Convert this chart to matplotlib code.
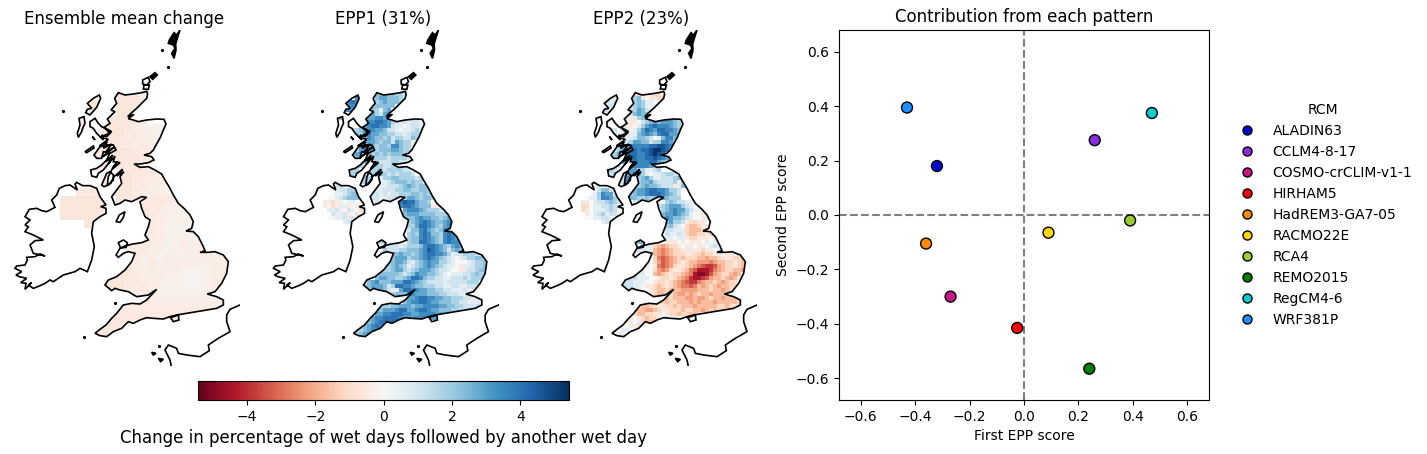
import numpy as np
import matplotlib
matplotlib.use("Agg")
import matplotlib.pyplot as plt
from matplotlib.path import Path
from matplotlib.patches import PathPatch
from matplotlib.lines import Line2D
from matplotlib.colors import Normalize
from matplotlib.cm import ScalarMappable

W, H = 1427, 454
RCMS = ["ALADIN63", "CCLM4-8-17", "COSMO-crCLIM-v1-1", "HIRHAM5", "HadREM3-GA7-05",
        "RACMO22E", "RCA4", "REMO2015", "RegCM4-6", "WRF381P"]
EPP1_SCORE = [-0.32, 0.26, -0.27, -0.025, -0.36, 0.09, 0.39, 0.24, 0.47, -0.43]
EPP2_SCORE = [0.18, 0.275, -0.30, -0.415, -0.105, -0.065, -0.02, -0.565, 0.375, 0.395]
RCM_COLORS = ["#0000cd", "#8a2be2", "#c71585", "#ff0000", "#ff8c00",
              "#ffd700", "#9acd32", "#008000", "#00ced1", "#1e90ff"]
TITLES = ["Ensemble mean change", "EPP1 (31%)", "EPP2 (23%)"]
VMAX = 5.43

# Map fields: one character per cell. digits = positive levels, letters = negative levels; '.' = no data
MEAN_ROWS = [
    ".......66655", "...66..66655", "...55..6665", "..5...66655", "..55.5665432221",
    "...5.5665543221", "....5665545432", "....5566655533", "....5566665554",
    "...555.6565554", ".....5.66555423", ".....5.66553424", "..555.66654433",
    "666666.655556533", "666766...66554334", "66666....56543333", "...6.....46542322",
    ".........455423333", ".........4544334333", "........555432344433", "........55332433344444",
    ".......55435344443344", ".......66543433212344", "......665544433212345",
    ".....6665554333222344", "......555444333333444", "........444444444444445",
    ".......55555555555555", "......665565555", ".....6655", "....6655",
]
EPP1_ROWS = [
    "..............44544332", ".........6....45544432", ".......676....3454443",
    ".......666...344444", "......565....43145", "............453256",
    ".....44.....556655", "...........5667765321212210", "..........4567766521101221a",
    "........3345665542210112321", "........4436655443322123321", "..........3465443423322432",
    "..........3455434425433a0", ".........35654344366433a1",
    ".........356543444554332", "........4565434343444322", ".........46434333233332",
    ".........3543232223322", "........343.223322332", ".......333.233332333322",
    "........33.2234432323332", "...........33.2133443333233", "..........333..11234443433",
    "....22.........1122234543443", "....122332....11222334433443", "...0112344...221212233344343",
    "..0012344432.2211223335543443", ".aabaa0110a...22121278775443", ".a0ba11a0a..........67765444aab1",
    "..112a0210b..........566654333223", "...2112a0b...........4555444433344",
    "..0011212............3445655443455", "......122.............345676544566",
    "......................335776543565", "......................244675434665",
    "......................343676443676", "......................3446765436765",
    "...............33.....34477654367664", ".................222123334677654356543",
    "................3222334445687654245432", ".................34454434567766531223332",
    "..................45553445676543210123344", ".................34554213456553321000123344",
    ".................345431234565432110a1123344", "................3345532345554322100a12234433",
    "...............4444432346554432101112234332", "..............4554433457764332211222323333",
    "............4564445557765432222122222333", "...........34555423776654433322112211222",
    "............3455421157766554433221112112", "................2234446655544433222111111",
    ".....................45567766554433322111212", ".....................45667765544433221112221",
    "...............333445554556666554433222221", "..............4455567755677655444332222122",
    "..............556677766556666554443332", ".............5667777655566665545",
    "............4567777665566654", "...........45676676", ".........33456665", "........33456", "........3344",
]
EPP2_ROWS = [
    "..............bbaaabba", ".........1....34a0aabb", ".......212....3431100a",
    ".......121...23431110", "......121....2354210", "............12454420",
    ".....11.....1a13422", "...........01aa023454555431", "..........01aa0135676665432",
    "........1201101357657766543", "........1200111456546775543", "..........0011244320146643",
    "..........012355442336653", ".........1234666667788763", ".........235677677899875",
    "........2356777667898754", ".........34677766778765", ".........34576766677543",
    "........232.456666542", ".......232.3455331123", "........23.34564310112332",
    "...........26.2345311222342", "...........26..3445322223a32", "....01.........345443222a143",
    "....024421....455677665332", "...0136551...3455677765432", "..011366532.24433434654333",
    ".1a01223432...234210a03432211", ".bb0112232..........2345553210aa",
    ".ba0111232...........3456553210aa", "..a0123122...........4556543100aa0",
    "..0011221............4654432100aab", "......121.............45332abbaa0a",
    "......................34210bccbaaa", "......................22111bcccbba",
    "......................21121bccbbab", "......................11011abbaaa0a",
    "...............44.....aaa0a0aaa01011", "................211bcdcbba0aa0aa012111",
    "...............2111cdedcbbaa1aabaa012211", "................110cdedcbbbaabbcbbaa0aa122",
    ".................10befedcbcbbbccdccbaaabbccc", "................110bdfedcbabccdddedccbbabcccc",
    "................110aefedbaabcdefggfdcbbabcdcc", "...............2100bdedbaabcefhhhgedcbbccdcc",
    "..............21100cdcbabbcdehiihfdcbbcdcaa", ".............2211100abbabcdeghhgfdccbcdcaa",
    "...........22211100abbabcdefggedccbcdcbb", "..........1222110aabcbabcdeefecdcbcdccbb",
    "...........1221100abccbcccddddcccbccdcbb", "...............11aabccbbcddcdcbccdccc",
    "....................bbcbcccddcddcbccdcccbb", "....................abcbbcccdcdcccdcccccbb",
    "...............bccbbaabbcbcccdcccccbbcbaa", "..............bccddcbaabbbcbbccdcbcbba",
    "..............bccbbaa0abbcbbccba0a0a", ".............a0abcbba01011a000",
    "............0a01bccb0a00", "...........00a1bcb", ".........a01100a", "........a011", "........0a0",
]

# Outlines, in units of a third of a pixel on the first map
MAINLAND = [(355,218),(375,225),(400,222),(425,218),(440,214),(443,222),(440,235),(425,250),(410,265),(395,278),(383,290),
    (402,283),(385,296),(400,300),(415,305),(440,300),(470,297),(492,298),(498,312),(490,330),(482,350),(470,372),(460,390),
    (450,400),(432,405),(455,410),(462,420),(445,428),(420,432),(402,432),(420,442),(445,440),(465,450),(485,462),(495,480),
    (510,505),(520,525),(535,550),(555,568),(570,585),(580,605),(575,625),(558,633),(580,635),(595,650),(610,680),(615,692),
    (600,697),(625,697),(645,695),(670,705),(685,725),(680,760),(665,790),(645,815),(622,822),(650,830),(670,840),(670,855),
    (650,865),(620,870),(590,875),(560,880),(530,885),(510,890),(490,897),(460,895),(440,893),(420,900),(400,910),(385,905),
    (365,925),(340,935),(320,950),(300,947),(285,940),(300,928),(318,915),(335,895),(350,880),(370,855),(395,850),(420,852),
    (440,840),(470,808),(445,825),(410,830),(385,815),(360,810),(345,805),(335,812),(315,795),(325,780),(350,770),(375,750),
    (395,725),(405,700),(385,695),(370,700),(355,712),(348,705),(360,685),(375,678),(398,672),(425,668),(445,660),(435,645),
    (445,620),(450,600),(435,590),(425,565),(420,545),(440,532),(425,530),(395,545),(375,540),(360,550),(345,555),(335,530),
    (350,510),(365,490),(360,470),(372,455),(350,468),(368,448),(342,470),(332,490),(322,495),(325,470),(340,440),(352,425),
    (338,447),(360,428),(340,425),(345,408),(325,432),(338,405),(318,425),(330,397),(305,412),(345,380),(318,395),(335,372),
    (310,385),(322,365),(298,378),(325,358),(302,352),(322,342),(335,335),(312,322),(330,310),(322,297),(345,275),(333,270),
    (350,250),(344,235)]
IRELAND = [(230,487),(248,497),(270,497),(290,505),(300,530),(318,555),(302,560),(318,565),(318,580),(300,590),(280,605),
    (275,640),(283,680),(275,720),(262,755),(240,745),(225,755),(190,765),(175,775),(160,785),(150,780),(135,790),(118,798),
    (100,805),(85,795),(95,788),(75,808),(78,790),(62,788),(80,775),(58,770),(48,765),(65,755),(45,745),(50,738),(75,735),
    (82,720),(80,712),(105,710),(120,702),(135,708),(100,700),(90,675),(105,662),(130,660),(100,645),(75,635),(85,620),(75,615),
    (90,600),(75,590),(88,568),(110,565),(125,572),(140,575),(165,562),(155,540),(170,525),(178,505),(195,497),(210,495),(232,510),(225,492)]
ISLANDS = [
    [(298,225),(302,235),(290,262),(270,285),(257,278),(262,268),(275,265),(262,250),(280,235)],
    [(252,290),(255,310),(248,325),(245,335),(235,352),(232,340),(240,315),(237,295)],
    [(270,305),(285,295),(295,310),(305,320),(315,325),(330,340),(320,350),(305,345),(310,360),(290,340),(280,325),(270,320)],
    [(277,350),(285,360),(282,355)],
    [(282,405),(300,380),(320,375),(340,375),(348,390),(330,400),(310,395),(305,415),(290,415)],
    [(255,395),(280,378),(282,384),(260,398)],
    [(272,450),(290,445),(305,435),(325,415),(330,425),(310,450),(295,460),(290,472),(275,468)],
    [(305,495),(320,460),(330,455),(340,465),(340,480),(325,495),(312,500)],
    [(348,605),(358,585),(375,575),(370,592),(360,607)],
    [(355,668),(370,660),(382,668),(378,682),(362,684)],
    [(512,893),(535,885),(537,900),(520,905)],
    [(428,180),(445,172),(450,185),(440,195),(428,192)],
    [(432,195),(448,195),(445,208),(430,207)],
]
SOLID = [
    [(450,170),(465,158),(472,165),(458,178)],
    [(540,30),(530,45),(522,38),(508,60),(505,70),(520,75),(525,85),(515,100),(522,115),(528,90),(527,72),(532,55)],
    [(455,997),(468,1000),(460,1005)],
    [(475,1015),(490,1018),(482,1025)],
]
SPECKS = [(190,272),(505,140),(487,90),(345,850),(252,952),(477,977)]
FRANCE = [(720,855),(690,868),(680,885),(680,905),(690,935),(655,955),(625,975),(628,992),(600,1010),(560,1005),(535,1000),
    (530,985),(505,975),(495,990),(510,1020),(515,1045)]


def decode(rows, pos_div, neg_div):
    n = max(len(r) for r in rows)
    out = np.full((len(rows), n), np.nan)
    for i, r in enumerate(rows):
        for j, ch in enumerate(r):
            if ch.isdigit():
                out[i, j] = int(ch) / pos_div
            elif ch != ".":
                out[i, j] = -(ord(ch) - 96) / neg_div
    return out


def decode_mean(rows):
    n = max(len(r) for r in rows)
    out = np.full((len(rows), n), np.nan)
    for i, r in enumerate(rows):
        for j, ch in enumerate(r):
            if ch != ".":
                out[i, j] = -int(ch) / 10
    return out


def poly_path(polys):
    verts, codes = [], []
    for p in polys:
        verts += list(p) + [p[0]]
        codes += [Path.MOVETO] + [Path.LINETO] * (len(p) - 1) + [Path.CLOSEPOLY]
    return Path(verts, codes)


def px_axes(fig, left, top, right, bottom):
    return fig.add_axes([left / W, 1 - bottom / H, (right - left) / W, (bottom - top) / H])


fig = plt.figure(figsize=(W / 100, H / 100), dpi=100)
fields = [(decode_mean(MEAN_ROWS), 24), (decode(EPP1_ROWS, 1.75, 2), 12), (decode(EPP2_ROWS, 1.7, 1.8), 12)]
land = poly_path([MAINLAND, IRELAND] + ISLANDS + SOLID)
for k, (title, (field, cell)) in enumerate(zip(TITLES, fields)):
    shift = 258.5 * k
    ax = px_axes(fig, 9 + shift, 30, 240 + shift, 366)
    ax.set_xlim(27, 720)
    ax.set_ylim(1038, 30)
    ax.axis("off")
    xe = 180 + cell * np.arange(field.shape[1] + 1)
    ye = 216 + cell * np.arange(field.shape[0] + 1)
    mesh = ax.pcolormesh(xe, ye, np.ma.masked_invalid(field), cmap="RdBu", vmin=-VMAX, vmax=VMAX)
    mesh.set_clip_path(PathPatch(land, transform=ax.transData))
    ax.add_patch(PathPatch(poly_path([MAINLAND, IRELAND] + ISLANDS), fc="none", ec="k", lw=1.2))
    ax.add_patch(PathPatch(poly_path(SOLID), fc="k", ec="k", lw=1.2))
    ax.plot(*zip(*FRANCE), color="k", lw=1.2)
    ax.plot(*zip(*SPECKS), ls="none", marker="o", ms=1.3, color="k")
    fig.text((124.5 + shift) / W, 1 - 24 / H, title, fontsize=12, ha="center", va="baseline")

cax = px_axes(fig, 198.3, 381, 569, 400)
cb = fig.colorbar(ScalarMappable(Normalize(-VMAX, VMAX), "RdBu"), cax=cax, orientation="horizontal")
cb.set_ticks([-4, -2, 0, 2, 4])
cb.set_label("Change in percentage of wet days followed by another wet day", fontsize=12)

ax = px_axes(fig, 839, 30, 1209, 400)
ax.axhline(0, color="gray", ls="--", lw=1.5, zorder=1)
ax.axvline(0, color="gray", ls="--", lw=1.5, zorder=1)
ax.scatter(EPP1_SCORE, EPP2_SCORE, c=RCM_COLORS, s=62, edgecolors="k", linewidths=1, zorder=3)
ax.set_xlim(-0.68, 0.68)
ax.set_ylim(-0.68, 0.68)
ax.set_xticks(np.arange(-0.6, 0.61, 0.2))
ax.set_yticks(np.arange(-0.6, 0.61, 0.2))
ax.set_xlabel("First EPP score")
ax.set_ylabel("Second EPP score")
ax.set_title("Contribution from each pattern", fontsize=12)
handles = [Line2D([], [], ls="none", marker="o", mfc=c, mec="k", ms=6.5, label=n)
           for n, c in zip(RCMS, RCM_COLORS)]
ax.legend(handles=handles, title="RCM", frameon=False, loc="center left",
          bbox_to_anchor=(1228 / W, 1 - 215 / H), bbox_transform=fig.transFigure,
          borderaxespad=0, labelspacing=0.5)

fig.savefig("out.png", dpi=100)
